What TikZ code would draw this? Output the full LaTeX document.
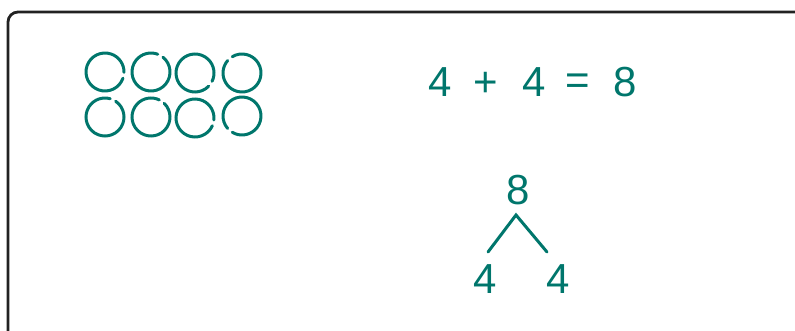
\documentclass[tikz,border=0pt]{standalone}
\usepackage{fontspec}
\setmainfont{Liberation Sans}
\definecolor{teal1}{RGB}{0,118,108}
\definecolor{frame1}{RGB}{34,34,34}
\tikzset{
  digit/.style={text=teal1, font=\fontsize{42}{42}\selectfont, inner sep=0pt, anchor=center},
  hline/.style={draw=teal1, line width=3pt, line cap=round},
  ring/.style={draw=teal1, line width=3pt, line cap=round},
  framebox/.style={draw=frame1, line width=2.8pt, rounded corners=10pt}
}
\newcommand{\hcirc}[4]{% name, x, y, visual gap angle
  \coordinate (#1) at (#2,#3);
  \draw[ring] (#1) ++({-(#4)+9}:19) arc[start angle={-(#4)+9}, end angle={-(#4)+351}, radius=19];
}
\begin{document}
\begin{tikzpicture}[x=1pt,y=-1pt]
\useasboundingbox (0,0) rectangle (795,331);
\draw[framebox] (8,345) -- (8,12) -- (810,12);
% circles
\hcirc{c1}{105}{72}{-10}
\hcirc{c2}{151}{72}{60}
\hcirc{c3}{195}{73}{-35}
\hcirc{c4}{242}{73}{130}
\hcirc{c5}{105}{117}{65}
\hcirc{c6}{151}{117}{55}
\hcirc{c7}{195}{118}{-15}
\hcirc{c8}{242}{116}{-130}
% equation
\node[digit] (e1) at (440,82) {4};
\node[digit] (ep) at (486,84) {+};
\node[digit] (e2) at (534,82) {4};
\node[digit] (eq) at (578,84) {=};
\node[digit] (e3) at (625,82) {8};
% number bond
\node[digit] (top) at (518,190) {8};
\node[digit] (bl) at (485,279) {4};
\node[digit] (br) at (558,279) {4};
\coordinate (apex) at (516,215);
\coordinate (lend) at (488,252);
\coordinate (rend) at (547,252);
\draw[hline] (lend) -- (apex) -- (rend);
\end{tikzpicture}
\end{document}
